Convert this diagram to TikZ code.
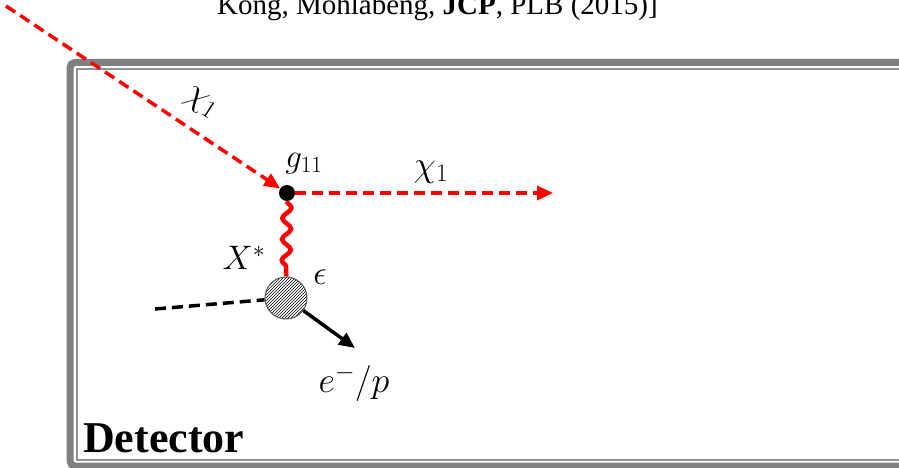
\RequirePackage{fix-cm}
\documentclass[tikz,border=0pt]{standalone}
\usepackage{fontspec}
\setmainfont{Liberation Serif}
\usepackage{tikz}
\usetikzlibrary{arrows.meta,decorations.pathmorphing,patterns}

\begin{document}
\begin{tikzpicture}[x=1pt,y=-1pt,>=Stealth,
  dmline/.style={draw=red,line width=3.5pt,dash pattern=on 11pt off 6pt},
  redtip/.style={-{Triangle[length=16pt,width=14pt,fill=red]}},
  blacktip/.style={-{Triangle[length=16pt,width=14pt,fill=black]}},
  lbl/.style={inner sep=0pt,font=\fontsize{36}{36}\selectfont}]
\useasboundingbox (0,0) rectangle (899,468);
\clip (0,0) rectangle (899,468);
% detector frame
\draw[line width=7pt,draw=gray,rounded corners=5pt] (70,62.5) rectangle (915,466);
\draw[line width=2pt,draw=gray!85] (77,69) rectangle (915,459.5);
\node[anchor=base west,inner sep=0pt,font=\fontsize{44}{44}\selectfont\bfseries] (det) at (83,452) {Detector};
\node[anchor=base,inner sep=0pt,font=\fontsize{29}{29}\selectfont] (ref) at (437.5,15) {Kong, Mohlabeng, \textbf{JCP}, PLB (2015)]};
% vertices
\node[circle,fill=black,minimum size=16pt,inner sep=0pt] (vertex) at (287,193) {};
\node[circle,draw=gray!70!black,line width=1pt,pattern=north east lines,minimum size=42pt,inner sep=0pt] (blob) at (286,298) {};
\coordinate (chiin) at (6,6);
\coordinate (chiout) at (553,193);
\coordinate (target) at (155,309);
\coordinate (recoil) at (355,348);
% lines
\draw[dmline,redtip] (chiin) -- (vertex);
\draw[dmline,redtip] (vertex) -- (chiout);
\draw[red,line width=4.5pt,decorate,decoration={snake,amplitude=4.5pt,segment length=21pt}] (vertex.south) -- (blob.north);
\draw[black,line width=3.5pt,dash pattern=on 11pt off 6pt] (target) -- (blob);
\draw[black,line width=3.5pt,blacktip] (blob) -- (recoil);
% labels
\node[lbl,rotate=-33] (chia) at (201,103) {$\chi_1$};
\node[lbl] (chib) at (431,172) {$\chi_1$};
\node[lbl,font=\fontsize{33}{33}\selectfont] (g11) at (304,164) {$g_{11}$};
\node[lbl,font=\fontsize{34}{34}\selectfont] (xstar) at (244,258) {$X^*$};
\node[lbl,font=\fontsize{34}{34}\selectfont] (eps) at (320,277) {$\epsilon$};
\node[lbl] (ep) at (354,383) {$e^-/p$};
\end{tikzpicture}
\end{document}
